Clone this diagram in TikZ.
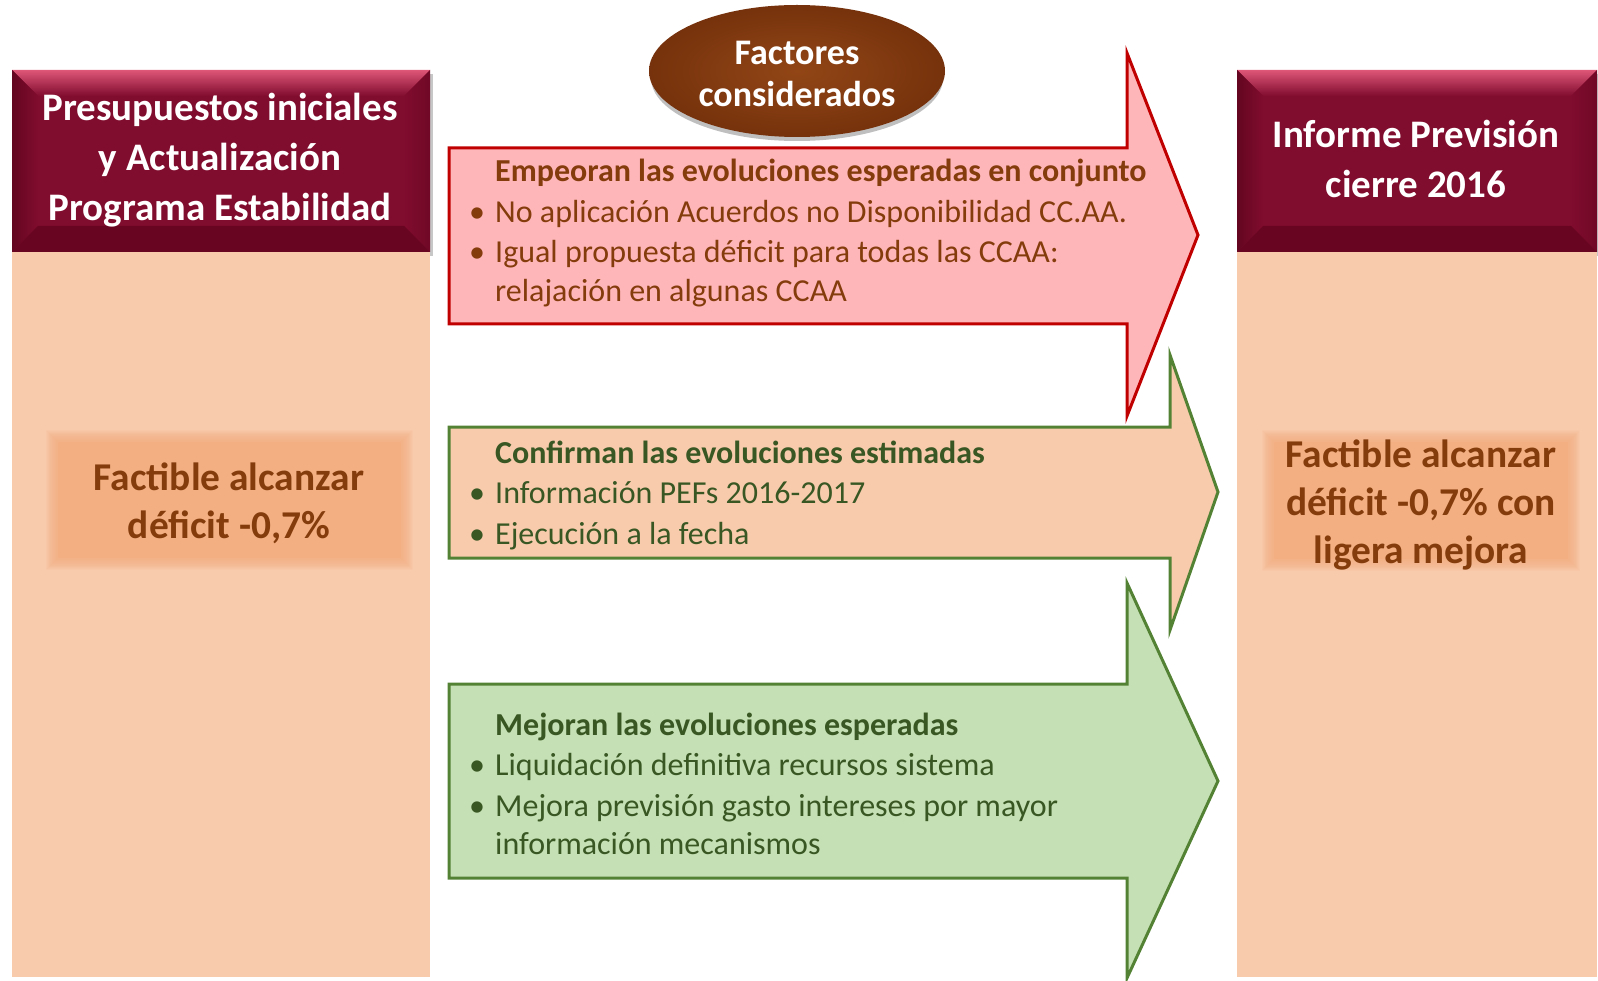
\documentclass[tikz,border=0pt]{standalone}
\usepackage{fontspec}
\setmainfont{Carlito}
\usetikzlibrary{shapes.geometric}
\definecolor{hdface}{RGB}{128,12,46}
\definecolor{hdtop}{RGB}{222,86,120}
\definecolor{hdleft}{RGB}{100,6,32}
\definecolor{hdright}{RGB}{112,8,38}
\definecolor{hdbottom}{RGB}{104,6,34}
\definecolor{pale}{RGB}{248,203,173}
\definecolor{boxo}{RGB}{243,175,130}
\definecolor{textbrown}{RGB}{132,60,12}
\definecolor{redfill}{RGB}{255,182,185}
\definecolor{redline}{RGB}{192,0,0}
\definecolor{greenline}{RGB}{84,130,53}
\definecolor{greenfill}{RGB}{197,224,180}
\definecolor{textgreen}{RGB}{56,87,35}
\definecolor{ovalin}{RGB}{146,70,22}
\definecolor{ovalout}{RGB}{118,50,12}
\begin{document}
\begin{tikzpicture}[x=1pt,y=-1pt,
  hdtext/.style={text=white, font=\fontsize{39}{48}\selectfont\bfseries, inner sep=0, anchor=base},
  boxtext/.style={text=textbrown, font=\fontsize{39.4}{48}\selectfont\bfseries, inner sep=0, anchor=base},
  ovaltext/.style={text=white, font=\fontsize{36}{42}\selectfont\bfseries, inner sep=0, anchor=base},
  arrhead/.style={font=\fontsize{32}{38}\selectfont\bfseries, inner sep=0, anchor=base west},
  arrline/.style={font=\fontsize{32}{38}\selectfont, inner sep=0, anchor=base west},
  bul/.style={font=\fontsize{32}{38}\selectfont, inner sep=0, anchor=base},
  arrowshape/.style={line width=3pt, line join=miter, miter limit=10},
]
\useasboundingbox (0,0) rectangle (1598,981);

% header shadows
\foreach \xa/\xb in {12/430,1237/1597}{
  \fill[black,opacity=.22] (\xa+4,74) rectangle (\xb+3,256);
}
% pale columns
\fill[pale] (12,252) rectangle (430,977);
\fill[pale] (1237,252) rectangle (1597,977);

% bevelled headers
\foreach \xa/\xb in {12/430,1237/1597}{
  \fill[hdface] (\xa,70) rectangle (\xb,252);
  \shade[top color=hdtop, bottom color=hdface] (\xa,70) -- (\xb,70) -- (\xb-26,96) -- (\xa+26,96) -- cycle;
  \shade[left color=hdleft, right color=hdface] (\xa,70) -- (\xa+26,96) -- (\xa+26,226) -- (\xa,252) -- cycle;
  \shade[left color=hdface, right color=hdright] (\xb,70) -- (\xb-26,96) -- (\xb-26,226) -- (\xb,252) -- cycle;
  \fill[hdbottom] (\xa,252) -- (\xa+26,226) -- (\xb-26,226) -- (\xb,252) -- cycle;
}

% soft inner boxes
\foreach \i in {0,...,11}{
  \fill[boxo,opacity=0.12] (46+\i,430+\i) rectangle (413-\i,570-\i);
  \fill[boxo,opacity=0.12] (1262+\i,430+\i) rectangle (1580-\i,571-\i);
}
\fill[boxo] (58,442) rectangle (401,558);
\fill[boxo] (1274,442) rectangle (1568,559);

% oval
\fill[black,opacity=.25] (797,78) ellipse [x radius=146pt, y radius=63pt];
\node[ellipse, minimum width=296pt, minimum height=132pt, inner sep=0,
      inner color=ovalin, outer color=ovalout] (fact) at (797,71) {};

% arrows
\draw[arrowshape, draw=redline, fill=redfill]
  (449,148) -- (1127,148) -- (1127,53) -- (1198,235) -- (1127,416) -- (1127,324) -- (449,324) -- cycle;
\draw[arrowshape, draw=greenline, fill=pale]
  (449,427) -- (1170,427) -- (1170,355) -- (1218,492) -- (1170,630) -- (1170,558) -- (449,558) -- cycle;
\draw[arrowshape, draw=greenline, fill=greenfill]
  (449,684) -- (1127,684) -- (1127,583) -- (1218,781) -- (1127,978) -- (1127,878) -- (449,878) -- cycle;

% header texts
\node[hdtext] (l1) at (220,121) {Presupuestos iniciales};
\node[hdtext] (l2) at (220,171) {y Actualización};
\node[hdtext] (l3) at (220,221) {Programa Estabilidad};
\node[hdtext] (r1) at (1416,148) {Informe Previsión};
\node[hdtext] (r2) at (1416,198) {cierre 2016};

% oval text
\node[ovaltext] (f1) at (797,65) {Factores};
\node[ovaltext] (f2) at (797,107) {considerados};

% inner box texts
\node[boxtext] (lb1) at (229,490) {Factible alcanzar};
\node[boxtext] (lb2) at (229,538) {déficit -0,7\%};
\node[boxtext] (rb1) at (1421,467) {Factible alcanzar};
\node[boxtext] (rb2) at (1421,515) {déficit -0,7\% con};
\node[boxtext] (rb3) at (1421,563) {ligera mejora};

% red arrow texts
\node[arrhead, text=textbrown] (a0) at (495,182) {Empeoran las evoluciones esperadas en conjunto};
\node[bul, text=textbrown] (ab1) at (477,223) {•};
\node[arrline, text=textbrown] (a1) at (495,223) {No aplicación Acuerdos no Disponibilidad CC.AA.};
\node[bul, text=textbrown] (ab2) at (477,263) {•};
\node[arrline, text=textbrown] (a2) at (495,263) {Igual propuesta déficit para todas las CCAA:};
\node[arrline, text=textbrown] (a3) at (495,302) {relajación en algunas CCAA};

% middle arrow texts
\node[arrhead, text=textgreen] (m0) at (495,463) {Confirman las evoluciones estimadas};
\node[bul, text=textgreen] (mb1) at (477,503) {•};
\node[arrline, text=textgreen] (m1) at (495,503) {Información PEFs 2016-2017};
\node[bul, text=textgreen] (mb2) at (477,544) {•};
\node[arrline, text=textgreen] (m2) at (495,544) {Ejecución a la fecha};

% bottom arrow texts
\node[arrhead, text=textgreen] (g0) at (495,735) {Mejoran las evoluciones esperadas};
\node[bul, text=textgreen] (gb1) at (477,775) {•};
\node[arrline, text=textgreen] (g1) at (495,775) {Liquidación definitiva recursos sistema};
\node[bul, text=textgreen] (gb2) at (477,816) {•};
\node[arrline, text=textgreen] (g2) at (495,816) {Mejora previsión gasto intereses por mayor};
\node[arrline, text=textgreen] (g3) at (495,854) {información mecanismos};
\end{tikzpicture}
\end{document}
